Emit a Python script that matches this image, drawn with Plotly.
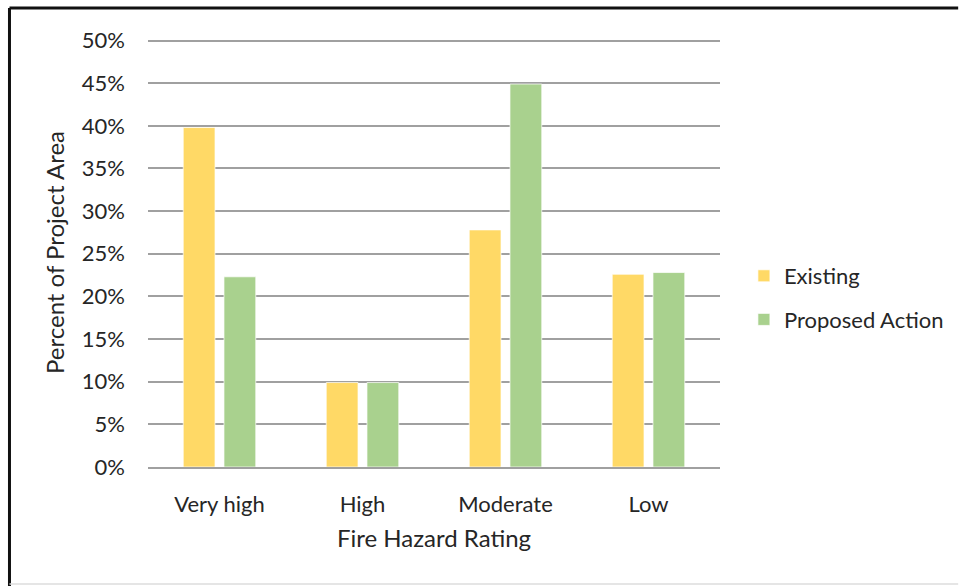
import plotly.graph_objects as go

# Fire hazard rating shares of the project area
categories = ["Very high", "High", "Moderate", "Low"]
existing = [39.8, 9.9, 27.8, 22.6]
proposed = [22.3, 9.9, 44.9, 22.8]
y_ticks = [0, 5, 10, 15, 20, 25, 30, 35, 40, 45, 50]
y_tick_labels = [f"{v}%" for v in y_ticks]

FONT = "Lato, Calibri, Carlito, sans-serif"
TEXT = "#262626"

fig = go.Figure()
fig.add_trace(go.Bar(
    x=categories, y=existing, name="Existing",
    marker=dict(color="#FFD966", line=dict(color="rgba(255,255,255,0.7)", width=1)),
    legendgroup="a",
))
fig.add_trace(go.Bar(
    x=categories, y=proposed, name="Proposed Action",
    marker=dict(color="#A9D18E", line=dict(color="rgba(255,255,255,0.7)", width=1)),
    legendgroup="b",
))

W, H = 961, 586
L, R, T, B = 148, 722, 38, 467
pw, ph = R - L, B - T

def px(x):
    return (x - L) / pw

def py(y):
    return (B - y) / ph

fig.update_layout(
    width=W, height=H,
    margin=dict(l=L, r=W - R, t=T, b=H - B),
    paper_bgcolor="white", plot_bgcolor="white",
    barmode="group", bargap=0.43, bargroupgap=0.22,
    font=dict(family=FONT, size=22, color=TEXT),
    showlegend=True,
    legend=dict(
        x=px(746), y=py(255), xanchor="left", yanchor="top",
        font=dict(family=FONT, size=22, color=TEXT),
        tracegroupgap=12, bgcolor="rgba(0,0,0,0)",
    ),
    xaxis=dict(
        title=dict(text="Fire Hazard Rating", font=dict(family=FONT, size=24, color=TEXT), standoff=14),
        showgrid=False, showline=True, linecolor="#a0a0a0", linewidth=1.5,
        ticks="", ticklabelstandoff=17,
        tickfont=dict(family=FONT, size=22, color=TEXT),
    ),
    yaxis=dict(
        title=dict(text="Percent of Project Area", font=dict(family=FONT, size=24, color=TEXT), standoff=10),
        range=[0, 50.3], tickvals=y_ticks, ticktext=y_tick_labels,
        showgrid=True, gridcolor="#a0a0a0", gridwidth=1.5,
        zeroline=False, showline=False, ticks="", ticklabelstandoff=22,
        tickfont=dict(family=FONT, size=22, color=TEXT),
    ),
    shapes=[
        # chart frame: dark top and left edges, light bottom edge
        dict(type="line", xref="paper", yref="paper", x0=px(9), x1=px(961), y0=py(8), y1=py(8),
             line=dict(color="#111111", width=3), layer="above"),
        dict(type="line", xref="paper", yref="paper", x0=px(9), x1=px(9), y0=py(8), y1=py(586),
             line=dict(color="#111111", width=3), layer="above"),
        dict(type="line", xref="paper", yref="paper", x0=px(9), x1=px(961), y0=py(584), y1=py(584),
             line=dict(color="#dddddd", width=1.5), layer="above"),
    ],
)

fig.write_html("out.html")
